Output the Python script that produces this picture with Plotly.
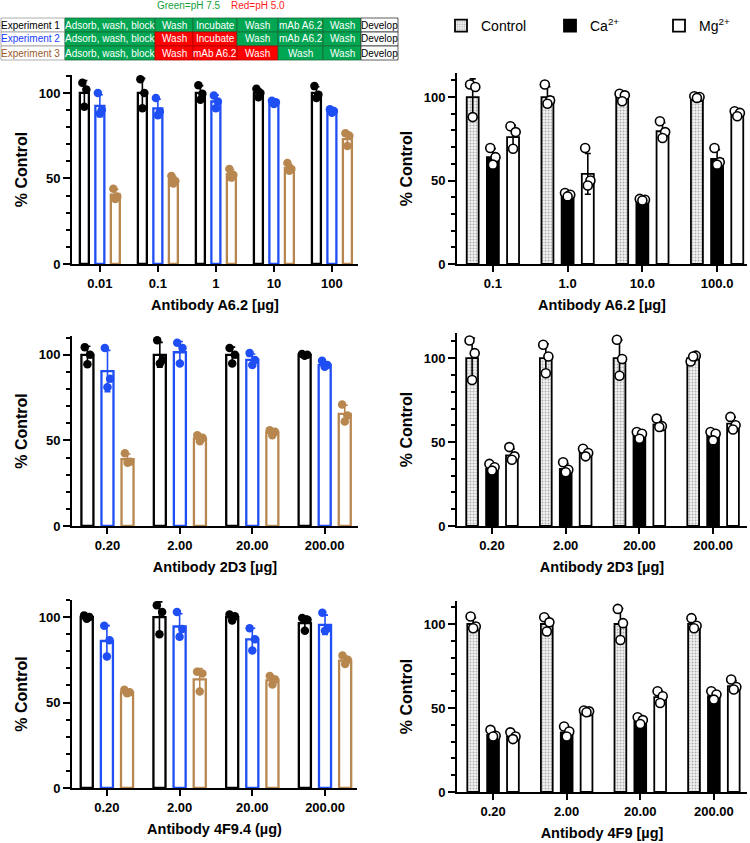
import numpy as np
import plotly.graph_objects as go

# ---------------- DATA ----------------
# Panel A (top-left): Antibody A6.2, three experiments
a62_left_cats = ["0.01", "0.1", "1", "10", "100"]
a62_exp1_mean = [100, 100, 100, 100, 100]
a62_exp1_pts = [[106, 102, 92], [108, 100, 91], [104.5, 99.5, 96], [102.5, 100, 97.5], [104, 99, 97]]
a62_exp2_mean = [92.5, 91, 95, 94.5, 89.5]
a62_exp2_pts = [[100, 90, 88], [97, 89, 87], [98.5, 95, 91], [95.5, 94.5, 93.5], [90.5, 89.5, 88.5]]
a62_exp3_mean = [40.5, 49, 52.5, 56, 73]
a62_exp3_pts = [[44, 39.5, 38], [51.5, 48.5, 47], [55.5, 52, 50.5], [59, 55.5, 54.5], [76.5, 75, 69]]

# Panel C (mid-left): Antibody 2D3
d23_left_cats = ["0.20", "2.00", "20.00", "200.00"]
d23_exp1_mean = [100, 100, 100, 100]
d23_exp1_pts = [[104.5, 100, 94.5], [108.5, 97, 95], [104, 100, 95], [100.5, 100, 99.5]]
d23_exp2_mean = [90.5, 101.5, 97, 94]
d23_exp2_pts = [[104, 86, 81], [107, 104, 95], [101, 97, 94], [96.5, 94, 93]]
d23_exp3_mean = [39, 51, 54.5, 65.5]
d23_exp3_pts = [[42.5, 37.5, 37], [53, 51.5, 49.5], [56, 55, 53], [71, 64.5, 61]]

# Panel E (bottom-left): Antibody 4F9.4
f94_left_cats = ["0.20", "2.00", "20.00", "200.00"]
f94_exp1_mean = [100, 100, 100, 96.5]
f94_exp1_pts = [[101, 100, 99], [107, 103, 90], [101.5, 100.5, 98], [99.5, 98.5, 92]]
f94_exp2_mean = [86, 94.5, 87, 95.5]
f94_exp2_pts = [[95, 86.5, 77], [103, 93, 88.5], [93.5, 87, 80.5], [102.5, 93.5, 92]]
f94_exp3_mean = [56, 63.5, 63, 74.5]
f94_exp3_pts = [[57.5, 56, 55.5], [68, 67, 56.5], [65.5, 63.5, 60.5], [77.5, 75, 72.5]]

# Panel B (top-right): Antibody A6.2, cations
a62_right_cats = ["0.1", "1.0", "10.0", "100.0"]
a62_ctrl_mean = [100, 100, 100, 100]
a62_ctrl_pts = [[107.5, 106, 88], [107.5, 98, 96], [102, 101, 97.5], [100.5, 100, 99.5]]
a62_ca_mean = [64, 41, 37.5, 63]
a62_ca_pts = [[69.5, 64, 59.5], [42.5, 41.5, 40.5], [39, 38.5, 38], [69.5, 61, 59.5]]
a62_mg_mean = [76, 54, 79.5, 90]
a62_mg_pts = [[82.5, 79, 69], [69.5, 50, 47], [85.5, 79, 75.5], [91.5, 90.5, 88.5]]

# Panel D (mid-right): Antibody 2D3, cations
d23_right_cats = ["0.20", "2.00", "20.00", "200.00"]
d23_ctrl_mean = [100, 100, 100, 100]
d23_ctrl_pts = [[110.5, 103, 87], [108, 101, 91], [111, 99.5, 89.5], [98, 101.5, 101]]
d23_ca_mean = [34, 34, 54, 54]
d23_ca_pts = [[37, 35, 33], [38, 33.5, 32], [56, 55, 52], [56, 55, 51]]
d23_mg_mean = [42, 43.5, 60.5, 61]
d23_mg_pts = [[47, 41.5, 39.5], [46, 43.5, 41.5], [64, 59.5, 59], [65, 60, 57.5]]

# Panel F (bottom-right): Antibody 4F9, cations
f9_right_cats = ["0.20", "2.00", "20.00", "200.00"]
f9_ctrl_mean = [100, 100, 100, 100]
f9_ctrl_pts = [[104.5, 98.5, 97.5], [104, 101, 95.5], [109, 100.5, 90.5], [103.5, 99, 97.5]]
f9_ca_mean = [34, 35.5, 42, 57]
f9_ca_pts = [[37, 33.5, 33], [39, 36, 33], [44.5, 42.8, 40.5], [60, 58, 55]]
f9_mg_mean = [33, 48, 56.5, 63]
f9_mg_pts = [[35.5, 33, 31.5], [48.5, 48, 47.5], [60, 57, 53], [67, 62.5, 61]]

# Protocol table
table_row_labels = ["Experiment 1", "Experiment 2", "Experiment 3"]
table_steps = [
    ["Adsorb, wash, block", "Wash", "Incubate", "Wash", "mAb A6.2", "Wash", "Develop"],
    ["Adsorb, wash, block", "Wash", "Incubate", "Wash", "mAb A6.2", "Wash", "Develop"],
    ["Adsorb, wash, block", "Wash", "mAb A6.2", "Wash", "Wash", "Wash", "Develop"],
]
table_ph = [
    ["7.5", "7.5", "7.5", "7.5", "7.5", "7.5", ""],
    ["7.5", "5.0", "5.0", "7.5", "7.5", "7.5", ""],
    ["7.5", "5.0", "5.0", "5.0", "7.5", "7.5", ""],
]

# ---------------- STYLE ----------------
W, H = 750, 843
FONT = "Liberation Sans, Arial, Helvetica, sans-serif"
BLACK = "#000000"
BLUE = "#1f4ef5"
BROWN = "#b8874f"
GREEN_CELL = "#00a651"
RED_CELL = "#ff0000"
exp_colors = [BLACK, BLUE, BROWN]
label_colors = ["#000000", "#1a3cff", "#9a5a2c"]


def px(x):
    return x / W


def py(y):
    return 1 - y / H


def sd(pts):
    return [float(np.std(p, ddof=1)) for p in pts]


fig = go.Figure()

panels = [
    dict(name="1", x0=72, x1=358, yz=264, yt=75, ytop=110.5, xr=[-0.48, 4.45],
         cats=a62_left_cats, xtitle="Antibody A6.2 [µg]", kind="exp",
         series=[(a62_exp1_mean, a62_exp1_pts), (a62_exp2_mean, a62_exp2_pts), (a62_exp3_mean, a62_exp3_pts)],
         width=0.155, step=0.267),
    dict(name="2", x0=457, x1=747, yz=264, yt=73, ytop=114.4, xr=[-0.48, 3.40],
         cats=a62_right_cats, xtitle="Antibody A6.2 [µg]", kind="ion",
         series=[(a62_ctrl_mean, a62_ctrl_pts), (a62_ca_mean, a62_ca_pts), (a62_mg_mean, a62_mg_pts)],
         width=0.16, step=0.27),
    dict(name="3", x0=72, x1=358, yz=526, yt=336, ytop=111, xr=[-0.49, 3.46],
         cats=d23_left_cats, xtitle="Antibody 2D3 [µg]", kind="exp",
         series=[(d23_exp1_mean, d23_exp1_pts), (d23_exp2_mean, d23_exp2_pts), (d23_exp3_mean, d23_exp3_pts)],
         width=0.166, step=0.277),
    dict(name="4", x0=457, x1=747, yz=526, yt=333, ytop=115, xr=[-0.475, 3.46],
         cats=d23_right_cats, xtitle="Antibody 2D3 [µg]", kind="ion",
         series=[(d23_ctrl_mean, d23_ctrl_pts), (d23_ca_mean, d23_ca_pts), (d23_mg_mean, d23_mg_pts)],
         width=0.16, step=0.27),
    dict(name="5", x0=72, x1=357, yz=788, yt=600, ytop=110, xr=[-0.48, 3.44],
         cats=f94_left_cats, xtitle="Antibody 4F9.4 (µg)", kind="exp",
         series=[(f94_exp1_mean, f94_exp1_pts), (f94_exp2_mean, f94_exp2_pts), (f94_exp3_mean, f94_exp3_pts)],
         width=0.166, step=0.277),
    dict(name="6", x0=457, x1=747, yz=792, yt=601, ytop=113.7, xr=[-0.49, 3.45],
         cats=f9_right_cats, xtitle="Antibody 4F9 [µg]", kind="ion",
         series=[(f9_ctrl_mean, f9_ctrl_pts), (f9_ca_mean, f9_ca_pts), (f9_mg_mean, f9_mg_pts)],
         width=0.16, step=0.27),
]

ion_names = ["Control", "Ca<sup>2+</sup>", "Mg<sup>2+</sup>"]
exp_names = ["Experiment 1", "Experiment 2", "Experiment 3"]
jit = [-0.22, 0.22, 0.0]

scatter_traces = []
for p in panels:
    xa = "x" if p["name"] == "1" else "x" + p["name"]
    ya = "y" if p["name"] == "1" else "y" + p["name"]
    n = len(p["cats"])
    idx = np.arange(n)
    w = p["width"]
    for k, (mean, pts) in enumerate(p["series"]):
        off = (k - 1) * p["step"]
        if p["kind"] == "exp":
            col = exp_colors[k]
            marker = dict(color="white", line=dict(color=col, width=2.3))
            ecol = col
            name = exp_names[k]
            showleg = False
        else:
            if k == 0:
                marker = dict(color="#f0f0f0",
                              pattern=dict(shape=".", fgcolor="#6a6a6a", bgcolor="#f2f2f2",
                                           size=3, solidity=0.35),
                              line=dict(color="black", width=1.8))
            elif k == 1:
                marker = dict(color="black", line=dict(color="black", width=1.8))
            else:
                marker = dict(color="white", line=dict(color="black", width=1.8))
            ecol = "black"
            name = ion_names[k]
            showleg = p["name"] == "2"
        fig.add_trace(go.Bar(
            x=idx, y=mean, width=w, offset=off - w / 2, marker=marker, name=name,
            showlegend=showleg, legendrank=k,
            error_y=dict(type="data", array=sd(pts), color=ecol, thickness=1.6, width=3),
            xaxis=xa, yaxis=ya, hoverinfo="y",
        ))
        xs, ys = [], []
        for i in range(n):
            for j, v in enumerate(pts[i]):
                xs.append(i + off + jit[j] * w)
                ys.append(v)
        if p["kind"] == "exp":
            smarker = dict(color=exp_colors[k], size=8.5, line=dict(width=0))
        else:
            smarker = dict(color="white", size=9, line=dict(color="black", width=1.6))
        scatter_traces.append(go.Scatter(x=xs, y=ys, mode="markers", marker=smarker,
                                         showlegend=False, xaxis=xa, yaxis=ya, hoverinfo="y"))

for t in scatter_traces:
    fig.add_trace(t)

layout_axes = {}
for p in panels:
    xk = "xaxis" if p["name"] == "1" else "xaxis" + p["name"]
    yk = "yaxis" if p["name"] == "1" else "yaxis" + p["name"]
    ya = "y" if p["name"] == "1" else "y" + p["name"]
    xa = "x" if p["name"] == "1" else "x" + p["name"]
    layout_axes[xk] = dict(
        domain=[px(p["x0"]), px(p["x1"])], anchor=ya, range=p["xr"],
        tickvals=list(range(len(p["cats"]))), ticktext=p["cats"],
        ticks="outside", ticklen=6, tickwidth=2, tickcolor="black",
        showline=True, linewidth=2, linecolor="black", showgrid=False, zeroline=False,
        tickfont=dict(family=FONT, size=13, color="black", weight="bold"),
        title=dict(text=p["xtitle"], font=dict(family=FONT, size=14.5, color="black", weight="bold"),
                   standoff=10),
        fixedrange=True,
    )
    layout_axes[yk] = dict(
        domain=[py(p["yz"]), py(p["yt"])], anchor=xa, range=[0, p["ytop"]],
        tickvals=[0, 50, 100], ticks="outside", ticklen=7, tickwidth=2, tickcolor="black",
        minor=dict(tickvals=[10, 20, 30, 40, 60, 70, 80, 90, 110], ticks="outside", ticklen=4,
                   tickwidth=1.5, tickcolor="black"),
        showline=True, linewidth=2, linecolor="black", showgrid=False, zeroline=False,
        tickfont=dict(family=FONT, size=13, color="black", weight="bold"),
        title=dict(text="% Control", font=dict(family=FONT, size=16, color="black", weight="bold"),
                   standoff=7),
        fixedrange=True,
    )

# ---------- protocol table ----------
col_edges = [0, 65, 155, 193, 237, 278, 323, 361, 398]
row_edges = [18, 32, 46, 60]
shapes = []
annotations = []
for r in range(3):
    y0, y1 = row_edges[r], row_edges[r + 1]
    shapes.append(dict(type="rect", xref="paper", yref="paper", x0=px(col_edges[0] + 1), x1=px(col_edges[1]),
                       y0=py(y1), y1=py(y0), fillcolor="white", line=dict(color="#9a9a9a", width=0.8),
                       layer="above"))
    annotations.append(dict(xref="paper", yref="paper", x=px(col_edges[1] - 3), y=py((y0 + y1) / 2),
                            xanchor="right", yanchor="middle", showarrow=False, text=table_row_labels[r],
                            font=dict(family=FONT, size=10, color=label_colors[r])))
    for c in range(7):
        xa0, xa1 = col_edges[c + 1], col_edges[c + 2]
        ph = table_ph[r][c]
        if ph == "7.5":
            fc, tc, lc = GREEN_CELL, "white", "#1d6b3a"
        elif ph == "5.0":
            fc, tc, lc = RED_CELL, "white", "#b00000"
        else:
            fc, tc, lc = "white", "black", "#333333"
        shapes.append(dict(type="rect", xref="paper", yref="paper", x0=px(xa0), x1=px(xa1),
                           y0=py(y1), y1=py(y0), fillcolor=fc, line=dict(color=lc, width=0.8),
                           layer="above"))
        annotations.append(dict(xref="paper", yref="paper", x=px((xa0 + xa1) / 2), y=py((y0 + y1) / 2),
                                xanchor="center", yanchor="middle", showarrow=False, text=table_steps[r][c],
                                font=dict(family=FONT, size=10, color=tc)))

annotations.append(dict(xref="paper", yref="paper", x=px(189), y=py(6), showarrow=False,
                        text="Green=pH 7.5", font=dict(family=FONT, size=10, color="#13a03c"),
                        xanchor="center", yanchor="middle"))
annotations.append(dict(xref="paper", yref="paper", x=px(258), y=py(6), showarrow=False,
                        text="Red=pH 5.0", font=dict(family=FONT, size=10, color="#ff1a1a"),
                        xanchor="center", yanchor="middle"))

fig.update_layout(
    width=W, height=H, margin=dict(l=0, r=0, t=0, b=0, autoexpand=False),
    paper_bgcolor="white", plot_bgcolor="white", barmode="overlay",
    font=dict(family=FONT, color="black"),
    showlegend=True,
    legend=dict(orientation="h", x=px(441), y=py(10), xanchor="left", yanchor="top",
                entrywidth=64, entrywidthmode="pixels", traceorder="normal",
                font=dict(family=FONT, size=14, color="black"), bgcolor="rgba(0,0,0,0)"),
    shapes=shapes, annotations=annotations,
    **layout_axes,
)

fig.write_html(
    "out.html",
    config={"displayModeBar": False},
    post_script="document.body.style.margin='0';document.body.style.padding='0';"
                "document.documentElement.style.overflow='hidden';",
)
